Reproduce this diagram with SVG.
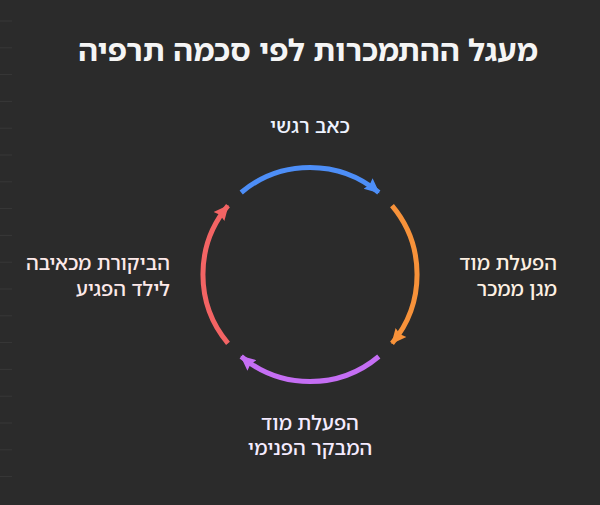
<svg xmlns="http://www.w3.org/2000/svg" width="600" height="505" viewBox="0 0 600 505">
<style>
.title{font-family:"Noto Sans Hebrew","Noto Sans",sans-serif;font-weight:700;font-size:30.5px;fill:#f5f5f5}
.lbl{font-family:"Noto Sans Hebrew","Noto Sans",sans-serif;font-size:20px;font-weight:500}
.arc{fill:none;stroke-width:5}
.tick{stroke:#383838;stroke-width:1}
</style>
<defs>
<marker id="mb" markerUnits="userSpaceOnUse" markerWidth="16" markerHeight="16" refX="14" refY="8" orient="auto" viewBox="0 0 16 16"><path d="M0,1 L15,8 L0,15 L2,8 z" fill="#4d8ef7"/></marker>
<marker id="mo" markerUnits="userSpaceOnUse" markerWidth="16" markerHeight="16" refX="14" refY="8" orient="auto" viewBox="0 0 16 16"><path d="M0,1 L15,8 L0,15 L2,8 z" fill="#f7923a"/></marker>
<marker id="mp" markerUnits="userSpaceOnUse" markerWidth="16" markerHeight="16" refX="14" refY="8" orient="auto" viewBox="0 0 16 16"><path d="M0,1 L15,8 L0,15 L2,8 z" fill="#c56ef4"/></marker>
<marker id="mr" markerUnits="userSpaceOnUse" markerWidth="16" markerHeight="16" refX="14" refY="8" orient="auto" viewBox="0 0 16 16"><path d="M0,1 L15,8 L0,15 L2,8 z" fill="#f36464"/></marker>
</defs>
<rect width="600" height="505" fill="#2b2b2b"/>
<g id="ticks">
<line class="tick" x1="0" y1="21" x2="12" y2="21"/>
<line class="tick" x1="0" y1="47.8" x2="12" y2="47.8"/>
<line class="tick" x1="0" y1="74.6" x2="12" y2="74.6"/>
<line class="tick" x1="0" y1="101.4" x2="12" y2="101.4"/>
<line class="tick" x1="0" y1="128.2" x2="12" y2="128.2"/>
<line class="tick" x1="0" y1="155" x2="12" y2="155"/>
<line class="tick" x1="0" y1="181.8" x2="12" y2="181.8"/>
<line class="tick" x1="0" y1="208.6" x2="12" y2="208.6"/>
<line class="tick" x1="0" y1="235.4" x2="12" y2="235.4"/>
<line class="tick" x1="0" y1="262.2" x2="12" y2="262.2"/>
<line class="tick" x1="0" y1="289" x2="12" y2="289"/>
<line class="tick" x1="0" y1="315.8" x2="12" y2="315.8"/>
<line class="tick" x1="0" y1="342.6" x2="12" y2="342.6"/>
<line class="tick" x1="0" y1="369.4" x2="12" y2="369.4"/>
<line class="tick" x1="0" y1="396.2" x2="12" y2="396.2"/>
<line class="tick" x1="0" y1="423" x2="12" y2="423"/>
<line class="tick" x1="0" y1="449.8" x2="12" y2="449.8"/>
<line class="tick" x1="0" y1="476.6" x2="12" y2="476.6"/>
</g>
<text class="title" x="308" y="61" text-anchor="middle">מעגל ההתמכרות לפי סכמה תרפיה</text>
<g id="connectors">
<path class="arc" stroke="#4d8ef7" d="M241.2,192.5 A107,107 0 0 1 378.8,192.5" marker-end="url(#mb)"/>
<path class="arc" stroke="#f7923a" d="M392,205.7 A107,107 0 0 1 392,343.3" marker-end="url(#mo)"/>
<path class="arc" stroke="#c56ef4" d="M378.8,356.5 A107,107 0 0 1 241.2,356.5" marker-end="url(#mp)"/>
<path class="arc" stroke="#f36464" d="M228,343.3 A107,107 0 0 1 228,205.7" marker-end="url(#mr)"/>
</g>
<g id="node-pain">
<text class="lbl" x="310" y="133" text-anchor="middle" fill="#eef3ff">כאב רגשי</text>
</g>
<g id="node-protector">
<text class="lbl" x="557" y="270" text-anchor="end" fill="#fdf0e2">הפעלת מוד</text>
<text class="lbl" x="557" y="296" text-anchor="end" fill="#fdf0e2">מגן ממכר</text>
</g>
<g id="node-critic">
<text class="lbl" x="310" y="430" text-anchor="middle" fill="#f5ebff">הפעלת מוד</text>
<text class="lbl" x="310" y="455" text-anchor="middle" fill="#f5ebff">המבקר הפנימי</text>
</g>
<g id="node-child">
<text class="lbl" x="170" y="270" text-anchor="end" fill="#fde9e9">הביקורת מכאיבה</text>
<text class="lbl" x="170" y="296" text-anchor="end" fill="#fde9e9">לילד הפגיע</text>
</g>
</svg>
